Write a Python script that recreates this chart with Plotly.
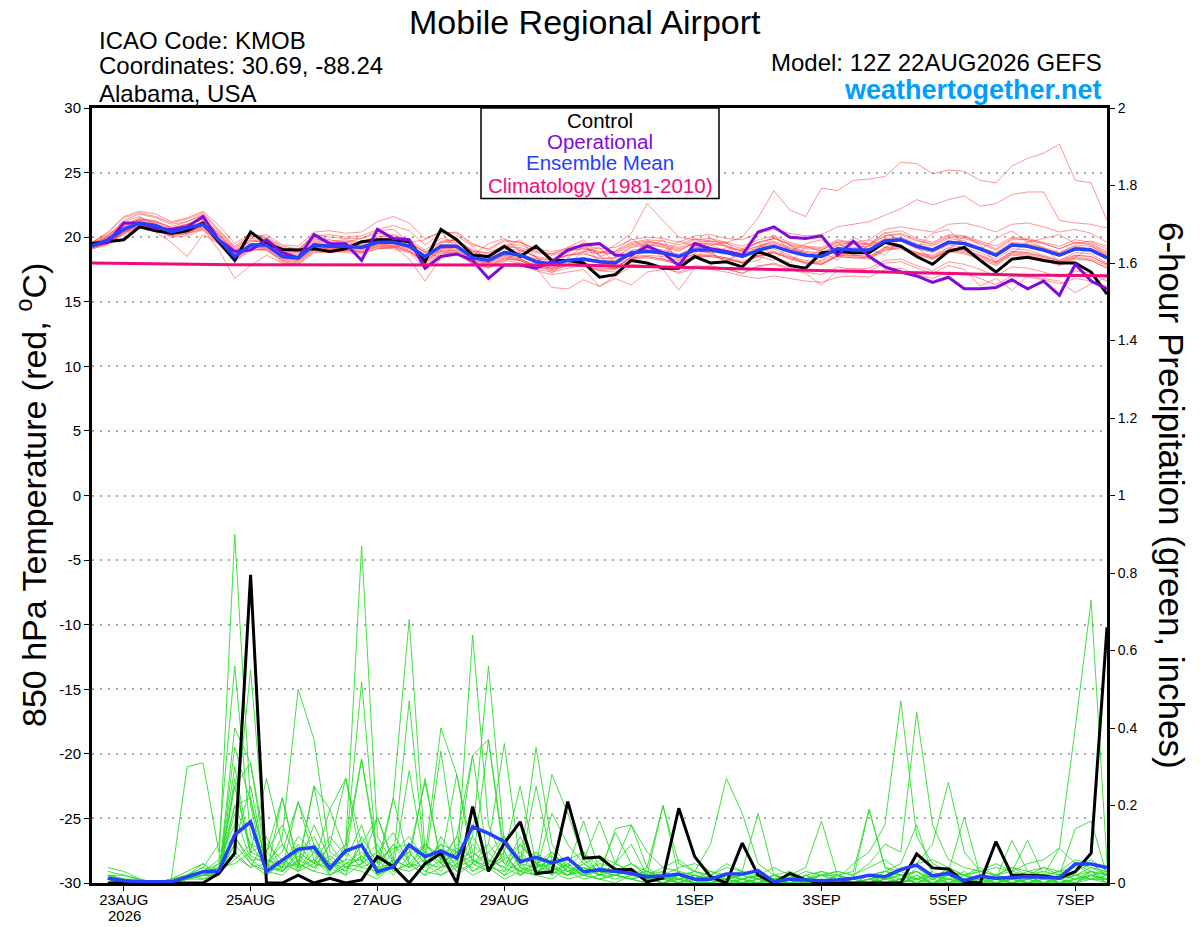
import pandas as pd
import plotly.graph_objects as go

# 6-hourly steps of the 12Z 22AUG2026 GEFS run, out to 12Z 07SEP2026
times = pd.date_range("2026-08-22 12:00", periods=65, freq="6h")

tick_dates = ["2026-08-23", "2026-08-25", "2026-08-27", "2026-08-29",
              "2026-09-01", "2026-09-03", "2026-09-05", "2026-09-07"]
tick_text = ["23AUG", "25AUG", "27AUG", "29AUG", "1SEP", "3SEP", "5SEP", "7SEP"]
year_label = "2026"

temp_ticks = [-30, -25, -20, -15, -10, -5, 0, 5, 10, 15, 20, 25, 30]
temp_labels = ["-30", "-25", "-20", "-15", "-10", "-5", "0", "5", "10", "15", "20", "25", "30"]

# 850 hPa temperature (C)
ctrl_temp = [19.5, 19.65, 19.8, 20.8, 20.5, 20.3, 20.5, 21.1, 19.65, 18.2,
             20.4, 19.5, 19.05, 19.0, 19.1, 18.9, 19.1, 19.65, 19.8, 19.8,
             19.65, 18.1, 20.6, 19.8, 18.6, 18.5, 19.3, 18.5, 19.3, 18.2,
             18.2, 18.0, 16.9, 17.1, 18.2, 18.0, 17.6, 17.6, 18.5, 18.0,
             18.1, 17.7, 18.9, 18.45, 17.8, 17.6, 18.8, 18.9, 18.8, 18.8,
             19.6, 19.3, 18.5, 17.9, 18.9, 19.2, 18.2, 17.3, 18.3, 18.45,
             18.2, 18.0, 18.0, 17.3, 15.6]
oper_temp = [19.4, 19.6, 21.1, 21.1, 20.7, 20.6, 20.8, 21.6, 19.8, 18.9,
             19.0, 19.8, 18.8, 18.4, 20.2, 19.5, 19.5, 18.2, 20.6, 19.9,
             19.8, 17.6, 18.5, 18.7, 18.2, 16.8, 17.85, 17.85, 17.6, 18.1,
             19.0, 19.4, 19.5, 18.6, 18.6, 19.3, 18.8, 17.8, 19.5, 19.1,
             18.9, 18.6, 20.4, 20.8, 20.0, 19.9, 20.1, 18.6, 19.7, 18.5,
             17.7, 17.3, 17.0, 16.5, 16.9, 16.0, 16.0, 16.1, 16.7, 16.0,
             16.6, 15.5, 17.9, 16.6, 16.0]
mean_temp = [19.3, 19.8, 20.6, 21.1, 20.9, 20.4, 20.7, 21.0, 19.8, 18.5,
             19.4, 19.4, 18.5, 18.4, 19.4, 19.3, 19.3, 19.2, 19.6, 19.6,
             19.3, 18.5, 19.3, 19.3, 18.4, 18.2, 18.8, 18.6, 18.1, 17.9,
             18.2, 18.3, 18.1, 18.0, 18.8, 18.9, 18.8, 18.5, 19.0, 19.0,
             18.8, 18.5, 19.0, 19.3, 18.9, 18.6, 18.5, 19.1, 19.0, 19.0,
             19.7, 19.8, 19.3, 19.0, 19.6, 19.5, 19.1, 18.6, 19.4, 19.3,
             19.0, 18.6, 19.1, 19.0, 18.4]
clim_temp = [18.00, 17.98, 17.96, 17.94, 17.92, 17.90, 17.89, 17.88, 17.87, 17.86,
             17.86, 17.86, 17.86, 17.86, 17.86, 17.86, 17.87, 17.87, 17.87, 17.87,
             17.88, 17.88, 17.88, 17.88, 17.88, 17.88, 17.88, 17.87, 17.86, 17.85,
             17.84, 17.82, 17.80, 17.78, 17.75, 17.72, 17.70, 17.67, 17.64, 17.61,
             17.58, 17.55, 17.52, 17.49, 17.46, 17.43, 17.40, 17.37, 17.34, 17.31,
             17.28, 17.25, 17.22, 17.19, 17.16, 17.14, 17.12, 17.10, 17.08, 17.06,
             17.05, 17.04, 17.03, 17.02, 17.01]

ens_temp = [
    [19.5, 20.0, 21.2, 21.6, 21.0, 20.5, 20.9, 21.5, 20.2, 18.9, 19.8, 19.6, 18.8, 18.9, 19.9, 19.6, 19.2, 19.6, 20.1, 20.0,
     19.5, 18.2, 19.6, 19.8, 18.9, 18.5, 19.3, 19.1, 18.4, 18.2, 18.6, 18.8, 18.3, 18.4, 19.3, 19.5, 19.2, 18.9, 19.6, 19.4,
     19.6, 18.5, 19.1, 20.2, 18.9, 19.5, 19.8, 18.9, 20.0, 19.4, 20.4, 19.7, 19.2, 20.3, 20.6, 19.4, 19.0, 19.9, 20.5, 19.6,
     19.9, 20.2, 19.5, 19.7, 19.3],
    [19.2, 19.5, 20.3, 20.9, 20.6, 20.0, 20.1, 20.6, 19.0, 16.8, 17.8, 18.6, 18.0, 17.9, 18.8, 18.9, 19.0, 18.8, 19.1, 19.3,
     18.9, 17.9, 18.7, 18.9, 17.9, 17.6, 18.4, 18.2, 17.5, 17.3, 17.6, 17.8, 17.4, 17.5, 18.3, 18.4, 18.2, 17.9, 18.5, 18.6,
     18.4, 18.0, 18.6, 18.8, 18.4, 18.0, 17.9, 18.6, 18.5, 18.4, 19.0, 19.2, 18.7, 18.4, 19.0, 18.9, 18.5, 18.0, 18.8, 18.7,
     18.4, 18.0, 18.5, 18.3, 17.8],
    [19.4, 19.9, 20.8, 21.4, 21.3, 20.7, 21.0, 21.4, 20.3, 19.0, 19.9, 19.8, 19.0, 18.9, 19.8, 19.7, 19.8, 19.6, 20.0, 20.2,
     19.8, 19.0, 19.9, 19.7, 18.9, 18.8, 19.3, 19.2, 18.8, 18.6, 18.9, 19.1, 18.8, 18.9, 19.6, 19.8, 19.7, 19.4, 19.9, 19.7,
     19.6, 20.0, 21.5, 23.6, 22.1, 21.6, 23.8, 23.6, 24.4, 24.5, 24.7, 25.8, 25.7, 24.9, 25.2, 25.1, 24.4, 24.2, 25.5, 26.1,
     26.5, 27.2, 24.4, 24.2, 21.3],
    [19.6, 20.2, 21.0, 21.3, 21.2, 20.8, 21.2, 21.7, 20.4, 19.1, 20.1, 19.9, 19.1, 19.0, 20.0, 19.8, 19.6, 19.9, 20.3, 20.1,
     19.7, 18.8, 19.7, 19.8, 19.0, 18.7, 19.4, 19.4, 18.9, 18.7, 19.2, 19.4, 19.1, 19.2, 19.8, 20.0, 19.9, 19.6, 20.1, 20.2,
     19.9, 19.8, 20.3, 20.6, 20.3, 20.1, 20.2, 20.8, 21.0, 21.2, 21.7, 22.2, 22.9, 22.5, 22.9, 23.2, 22.4, 22.6, 23.3, 23.5,
     23.5, 21.3, 21.1, 21.0, 20.7],
    [19.3, 19.6, 20.5, 21.0, 20.8, 20.3, 20.5, 20.9, 19.7, 18.6, 19.5, 19.3, 18.6, 18.4, 19.3, 19.2, 19.4, 19.1, 19.5, 19.7,
     19.4, 18.6, 19.4, 19.2, 18.4, 18.3, 18.9, 18.7, 18.3, 18.2, 18.6, 18.9, 18.7, 19.4, 20.3, 22.6, 21.3, 20.0, 19.8, 19.6,
     19.3, 18.9, 19.3, 19.7, 19.2, 18.9, 18.8, 19.4, 19.2, 19.3, 19.9, 20.0, 19.5, 19.3, 19.9, 19.7, 19.2, 18.8, 19.6, 19.5,
     19.2, 18.8, 19.4, 19.3, 18.7],
    [19.1, 19.5, 20.4, 20.8, 20.6, 20.2, 20.4, 20.8, 19.5, 18.1, 19.0, 19.0, 18.1, 17.9, 18.9, 18.8, 18.9, 18.9, 19.2, 19.1,
     18.8, 17.6, 18.8, 18.7, 17.9, 17.7, 18.2, 18.0, 17.4, 17.1, 17.3, 17.5, 16.2, 16.8, 16.3, 17.3, 17.5, 15.9, 17.6, 17.8,
     17.5, 17.2, 17.8, 17.9, 17.5, 17.2, 16.3, 17.4, 17.6, 17.4, 18.0, 18.1, 17.6, 17.2, 17.8, 17.5, 16.2, 16.8, 15.9, 17.0,
     16.8, 16.6, 15.7, 16.4, 16.9],
    [19.4, 20.1, 21.3, 21.8, 21.5, 21.0, 21.2, 21.8, 20.5, 19.3, 20.2, 19.9, 19.2, 19.0, 20.2, 20.0, 19.9, 19.9, 20.5, 20.6,
     19.6, 19.8, 20.4, 19.1, 18.6, 19.5, 19.9, 18.9, 19.3, 18.1, 19.2, 19.8, 18.5, 18.9, 19.9, 19.0, 18.6, 19.7, 19.3, 18.7,
     19.2, 18.9, 19.3, 19.6, 19.1, 18.7, 18.5, 19.1, 19.0, 18.9, 19.6, 19.7, 19.1, 18.8, 19.4, 19.2, 18.8, 18.3, 19.1, 19.0,
     18.6, 18.2, 18.8, 18.7, 18.0],
    [19.2, 19.6, 20.2, 20.7, 20.5, 20.1, 20.3, 20.7, 19.4, 18.2, 19.0, 19.1, 18.3, 18.2, 19.0, 19.0, 18.8, 18.7, 19.1, 19.2,
     18.9, 18.1, 18.9, 18.8, 18.0, 17.8, 18.4, 18.2, 17.7, 17.5, 17.8, 17.9, 17.6, 17.6, 18.4, 18.5, 18.3, 18.0, 18.6, 18.5,
     18.3, 18.0, 18.5, 18.8, 18.4, 18.1, 17.9, 18.5, 18.4, 18.4, 19.1, 19.2, 18.7, 18.4, 19.0, 18.8, 18.4, 17.9, 18.7, 18.6,
     18.3, 17.9, 18.4, 18.2, 17.6],
    [19.6, 20.3, 21.5, 21.9, 21.6, 21.1, 21.4, 21.9, 20.6, 19.2, 20.0, 20.2, 19.4, 19.3, 20.4, 20.5, 20.3, 20.4, 21.2, 21.6,
     21.1, 19.9, 20.4, 20.3, 19.4, 19.1, 19.8, 19.6, 19.1, 18.9, 19.1, 19.2, 18.9, 18.8, 19.5, 19.7, 19.5, 19.2, 19.8, 19.9,
     19.6, 19.3, 19.8, 20.1, 19.6, 19.3, 19.2, 19.8, 19.6, 19.5, 20.3, 20.5, 19.9, 19.6, 20.2, 20.1, 19.7, 19.3, 20.0, 19.9,
     19.6, 19.3, 19.8, 19.6, 19.1],
    [19.3, 19.7, 20.6, 21.1, 20.8, 20.5, 20.6, 21.0, 19.9, 18.7, 19.3, 19.4, 18.7, 18.6, 19.4, 19.3, 19.5, 19.3, 19.6, 19.5,
     19.2, 18.4, 19.1, 19.2, 18.6, 18.4, 18.9, 18.8, 18.2, 18.0, 17.9, 18.9, 19.2, 18.0, 18.6, 19.5, 18.3, 17.8, 19.4, 18.9,
     18.0, 19.1, 18.5, 18.2, 19.4, 18.8, 18.1, 19.3, 18.6, 19.8, 19.2, 19.9, 19.4, 19.1, 19.7, 19.6, 19.2, 18.7, 19.5, 19.4,
     19.1, 18.7, 19.2, 19.1, 18.5],
    [19.2, 19.6, 20.4, 20.9, 20.7, 20.2, 20.5, 20.9, 19.6, 18.4, 19.2, 19.2, 18.4, 18.2, 19.2, 19.1, 19.1, 19.0, 19.3, 19.3,
     18.9, 18.2, 19.0, 19.0, 18.2, 18.0, 18.6, 18.4, 17.6, 16.1, 16.0, 16.7, 16.2, 17.0, 17.7, 17.8, 17.6, 17.3, 17.8, 17.7,
     17.6, 17.2, 17.7, 18.0, 17.6, 17.3, 17.1, 17.7, 17.5, 17.6, 18.2, 18.3, 17.8, 17.4, 18.1, 17.9, 17.5, 17.0, 17.7, 17.6,
     17.3, 16.9, 17.4, 17.2, 16.6],
    [19.5, 20.1, 20.9, 21.5, 21.1, 20.6, 21.0, 21.3, 20.1, 18.8, 19.7, 19.7, 18.9, 18.8, 19.7, 19.6, 19.7, 19.5, 19.9, 19.9,
     19.6, 18.8, 19.6, 19.6, 18.8, 18.5, 19.1, 19.0, 18.5, 18.3, 18.6, 18.7, 18.4, 18.4, 19.2, 19.4, 19.3, 19.0, 19.5, 19.5,
     19.3, 19.0, 19.6, 19.9, 19.4, 19.1, 19.0, 19.6, 19.5, 19.4, 20.1, 20.2, 19.7, 19.5, 20.1, 20.0, 19.6, 19.1, 19.9, 19.8,
     19.5, 19.1, 19.6, 19.5, 18.9],
    [19.4, 19.8, 20.7, 21.2, 20.9, 20.4, 20.2, 21.1, 19.8, 18.6, 19.3, 19.5, 18.6, 18.5, 19.5, 19.3, 19.2, 19.3, 19.7, 19.6,
     19.3, 18.5, 19.3, 19.4, 18.5, 18.2, 18.8, 18.6, 18.0, 17.8, 18.1, 18.2, 18.0, 17.9, 18.7, 18.8, 18.7, 18.4, 18.9, 18.8,
     18.1, 18.9, 19.6, 18.4, 18.0, 19.3, 18.9, 18.2, 19.5, 19.1, 18.6, 19.9, 19.2, 18.3, 19.0, 20.1, 19.4, 18.0, 18.7, 19.7,
     19.2, 18.1, 18.4, 19.3, 18.6],
    [19.2, 19.5, 20.5, 21.0, 20.4, 19.6, 18.5, 20.2, 19.5, 18.3, 19.1, 19.0, 18.2, 18.1, 19.1, 19.0, 19.1, 18.9, 19.4, 19.4,
     19.0, 18.0, 18.9, 19.0, 18.1, 17.9, 18.5, 18.3, 17.8, 17.6, 17.9, 18.0, 17.7, 17.7, 18.5, 18.6, 18.5, 18.2, 18.7, 18.6,
     18.4, 18.1, 18.6, 18.9, 18.5, 18.2, 18.0, 18.6, 18.6, 18.5, 19.2, 19.3, 18.8, 18.5, 19.1, 19.0, 18.6, 18.1, 18.9, 18.8,
     18.5, 18.1, 18.6, 18.5, 17.9],
    [19.6, 20.4, 21.6, 22.0, 21.8, 21.2, 21.5, 22.0, 20.9, 19.5, 20.3, 20.0, 19.3, 19.1, 20.1, 20.2, 20.0, 20.1, 20.6, 20.9,
     20.5, 19.4, 20.3, 20.4, 19.5, 19.0, 19.7, 19.6, 19.0, 18.7, 19.0, 19.1, 18.8, 18.7, 19.4, 19.6, 19.4, 19.1, 19.6, 19.7,
     19.5, 19.1, 19.6, 19.9, 19.5, 19.2, 19.1, 19.7, 19.6, 19.4, 20.1, 20.3, 19.8, 19.4, 20.0, 19.9, 19.5, 19.0, 19.8, 19.8,
     19.5, 19.1, 19.6, 19.4, 18.8],
    [19.3, 19.9, 20.8, 21.3, 21.0, 20.5, 20.8, 21.2, 19.9, 18.6, 19.5, 19.5, 18.6, 18.5, 19.5, 19.4, 19.4, 19.3, 19.7, 19.7,
     19.4, 18.6, 19.4, 19.4, 18.5, 18.3, 18.9, 18.7, 18.2, 18.0, 18.3, 18.4, 18.2, 18.2, 19.0, 19.1, 19.0, 18.7, 19.2, 19.2,
     19.0, 18.7, 19.2, 19.5, 19.1, 18.8, 18.7, 19.4, 19.6, 19.8, 20.6, 20.8, 20.6, 20.4, 21.0, 21.1, 20.8, 20.4, 21.0, 21.1,
     20.8, 20.4, 20.6, 20.3, 19.6],
    [19.1, 19.4, 20.3, 20.8, 20.6, 20.1, 20.3, 20.6, 19.5, 18.4, 19.2, 19.1, 18.2, 18.0, 19.0, 18.9, 19.0, 18.8, 19.3, 19.2,
     19.5, 18.9, 18.4, 19.6, 18.8, 17.6, 18.1, 19.0, 18.5, 17.2, 18.4, 19.3, 18.6, 17.5, 18.2, 19.2, 19.8, 18.1, 18.3, 19.4,
     18.9, 18.0, 18.2, 19.1, 18.6, 17.9, 18.2, 18.7, 18.6, 18.5, 19.2, 19.3, 18.8, 18.6, 19.2, 19.0, 18.6, 18.1, 18.9, 18.8,
     18.5, 18.2, 18.6, 18.5, 17.9],
    [19.3, 19.7, 20.5, 21.0, 20.7, 20.3, 20.6, 20.8, 19.6, 18.4, 19.3, 19.2, 18.4, 18.3, 19.2, 19.1, 19.2, 19.1, 19.4, 19.4,
     19.1, 18.3, 19.1, 19.1, 18.2, 18.0, 18.6, 18.3, 17.8, 17.6, 17.9, 17.8, 17.4, 17.3, 17.9, 17.8, 17.7, 17.2, 17.6, 17.5,
     17.3, 17.0, 16.8, 17.0, 16.8, 16.6, 16.5, 16.9, 17.0, 16.9, 17.5, 17.6, 17.1, 16.8, 17.3, 17.2, 16.8, 16.3, 17.0, 16.9,
     16.7, 16.4, 16.8, 16.6, 16.2],
    [19.5, 20.0, 20.9, 21.4, 21.2, 20.7, 21.0, 21.4, 20.2, 18.9, 19.7, 19.6, 18.8, 18.7, 19.6, 19.5, 19.6, 19.4, 19.8, 19.8,
     19.9, 18.2, 19.0, 20.1, 19.3, 18.0, 19.2, 19.8, 18.4, 17.5, 18.8, 19.6, 18.0, 17.6, 18.5, 19.7, 19.4, 18.3, 18.7, 19.9,
     19.3, 18.4, 18.9, 20.0, 19.4, 18.5, 19.0, 19.6, 18.8, 19.3, 19.8, 19.9, 19.4, 19.1, 19.7, 19.6, 19.2, 18.7, 19.5, 19.4,
     19.1, 18.8, 19.3, 19.1, 18.6],
    [19.2, 19.6, 20.4, 21.0, 20.7, 20.2, 20.4, 20.8, 19.6, 18.3, 19.2, 19.3, 18.4, 18.3, 19.2, 19.2, 19.1, 19.2, 19.5, 19.3,
     18.3, 16.6, 18.4, 18.8, 18.0, 17.8, 18.3, 18.2, 17.7, 17.4, 17.8, 17.8, 17.5, 17.6, 18.4, 18.5, 18.3, 18.0, 18.5, 18.5,
     18.3, 18.0, 18.5, 18.8, 18.3, 18.0, 17.9, 18.5, 18.4, 18.3, 19.0, 19.1, 18.6, 18.3, 18.9, 18.7, 18.3, 17.8, 18.6, 18.5,
     18.2, 17.8, 18.3, 18.2, 17.6],
]

# 6-hour precipitation (inches), first value is 18Z 22AUG
ctrl_precip = [0.0, 0.0, 0.0, 0.0, 0.0, 0.0, 0.0, 0.025, 0.077, 0.795,
               0.0, 0.0, 0.02, 0.0, 0.012, 0.0, 0.008, 0.068, 0.042, 0.0,
               0.05, 0.077, 0.0, 0.197, 0.03, 0.103, 0.158, 0.025, 0.029, 0.21,
               0.064, 0.067, 0.034, 0.035, 0.003, 0.013, 0.193, 0.068, 0.016, 0.0,
               0.103, 0.02, 0.0, 0.025, 0.008, 0.0, 0.0, 0.0, 0.0, 0.0,
               0.0, 0.075, 0.039, 0.036, 0.003, 0.0, 0.107, 0.02, 0.02, 0.018,
               0.013, 0.029, 0.077, 0.66]
mean_precip = [0.012, 0.006, 0.003, 0.002, 0.003, 0.016, 0.029, 0.031, 0.124, 0.158,
               0.029, 0.059, 0.087, 0.092, 0.038, 0.083, 0.098, 0.029, 0.042, 0.098,
               0.068, 0.083, 0.064, 0.145, 0.128, 0.107, 0.055, 0.066, 0.052, 0.064,
               0.029, 0.034, 0.029, 0.025, 0.016, 0.018, 0.023, 0.010, 0.010, 0.023,
               0.023, 0.032, 0.003, 0.010, 0.008, 0.006, 0.008, 0.012, 0.020, 0.016,
               0.035, 0.046, 0.018, 0.025, 0.006, 0.018, 0.012, 0.015, 0.016, 0.015,
               0.013, 0.049, 0.049, 0.040]

ens_precip = [
    [0.03, 0.02, 0.01, 0, 0, 0.01, 0.02, 0.05, 0.90, 0.20, 0.02, 0.05, 0.08, 0.12, 0.04, 0.06,
     0.15, 0.02, 0.04, 0.10, 0.05, 0.08, 0.03, 0.10, 0.06, 0.04, 0.02, 0.05, 0.03, 0.02, 0.04, 0.03,
     0.02, 0.01, 0, 0.02, 0.01, 0, 0, 0.01, 0.02, 0.01, 0, 0, 0, 0, 0.01, 0,
     0, 0.01, 0.02, 0.03, 0.01, 0.02, 0, 0.01, 0, 0.01, 0.01, 0, 0.01, 0.03, 0.05, 0.02],
    [0.02, 0.01, 0, 0, 0, 0.02, 0.04, 0.10, 0.56, 0.12, 0.08, 0.15, 0.05, 0.03, 0.10, 0.04,
     0.05, 0.08, 0.13, 0.05, 0.02, 0.12, 0.06, 0.04, 0.08, 0.03, 0.10, 0.05, 0.02, 0.06, 0.08, 0.02,
     0.01, 0.02, 0.03, 0.01, 0, 0.02, 0.01, 0, 0, 0.01, 0, 0, 0.02, 0, 0, 0.01,
     0, 0, 0.01, 0, 0.02, 0.01, 0.03, 0, 0.01, 0, 0, 0.02, 0.01, 0, 0.02, 0.01],
    [0.01, 0, 0, 0, 0.01, 0.02, 0.03, 0.06, 0.15, 0.55, 0.06, 0.04, 0.12, 0.08, 0.05, 0.03,
     0.10, 0.02, 0.06, 0.04, 0.08, 0.05, 0.12, 0.06, 0.03, 0.10, 0.04, 0.02, 0.06, 0.03, 0.01, 0.02,
     0.05, 0.03, 0.01, 0, 0.02, 0, 0.01, 0.02, 0.01, 0, 0.01, 0, 0, 0.01, 0, 0,
     0.01, 0.02, 0, 0.01, 0, 0, 0.01, 0.02, 0, 0.01, 0, 0.01, 0, 0.02, 0.01, 0.01],
    [0.02, 0.01, 0.01, 0, 0.01, 0.30, 0.31, 0.08, 0.12, 0.06, 0.03, 0.02, 0.06, 0.10, 0.02, 0.04,
     0.03, 0.01, 0.05, 0.08, 0.03, 0.02, 0.05, 0.02, 0.04, 0.01, 0.03, 0.02, 0.01, 0.04, 0.02, 0.01,
     0, 0.02, 0.01, 0, 0.01, 0, 0, 0.01, 0, 0, 0.02, 0.01, 0, 0, 0, 0,
     0.01, 0, 0, 0.02, 0, 0.01, 0, 0, 0.02, 0, 0.01, 0, 0, 0.01, 0.02, 0.01],
    [0, 0, 0, 0, 0.01, 0.03, 0.05, 0.02, 0.20, 0.10, 0.04, 0.12, 0.50, 0.37, 0.08, 0.05,
     0.04, 0.06, 0.02, 0.07, 0.10, 0.05, 0.02, 0.05, 0.03, 0.08, 0.02, 0.04, 0.05, 0.02, 0.03, 0.01,
     0.02, 0.01, 0, 0.03, 0.01, 0, 0.02, 0, 0.01, 0, 0, 0.02, 0, 0, 0.01, 0,
     0, 0.01, 0.02, 0, 0.01, 0, 0, 0.02, 0.01, 0, 0.01, 0.02, 0, 0, 0.01, 0],
    [0.01, 0, 0, 0, 0, 0.01, 0.02, 0.04, 0.25, 0.08, 0.10, 0.06, 0.04, 0.15, 0.06, 0.10,
     0.87, 0.12, 0.05, 0.08, 0.03, 0.06, 0.04, 0.12, 0.05, 0.02, 0.07, 0.03, 0.04, 0.02, 0.05, 0.03,
     0.02, 0.04, 0.01, 0.02, 0, 0.01, 0, 0.02, 0, 0.01, 0, 0, 0.01, 0, 0.02, 0,
     0, 0.03, 0.02, 0.01, 0, 0.02, 0, 0.01, 0.01, 0.02, 0, 0, 0.01, 0.02, 0.03, 0.02],
    [0, 0, 0.01, 0, 0, 0.02, 0.03, 0.02, 0.35, 0.21, 0.05, 0.08, 0.21, 0.06, 0.03, 0.08,
     0.52, 0.05, 0.10, 0.04, 0.06, 0.03, 0.08, 0.05, 0.10, 0.05, 0.03, 0.08, 0.02, 0.05, 0.02, 0.04,
     0.03, 0.05, 0.02, 0, 0.01, 0.02, 0, 0, 0.01, 0.02, 0, 0.01, 0, 0, 0, 0.01,
     0.02, 0, 0.01, 0.03, 0, 0, 0.01, 0, 0, 0.01, 0.02, 0, 0, 0.01, 0.01, 0.02],
    [0.02, 0.01, 0, 0, 0, 0.01, 0.01, 0.03, 0.10, 0.25, 0.04, 0.06, 0.03, 0.10, 0.05, 0.02,
     0.12, 0.05, 0.22, 0.68, 0.08, 0.04, 0.10, 0.06, 0.04, 0.07, 0.03, 0.02, 0.08, 0.03, 0.02, 0.06,
     0.04, 0.02, 0.03, 0.01, 0, 0.02, 0.01, 0, 0, 0.02, 0.01, 0, 0.02, 0, 0, 0,
     0.01, 0, 0, 0.04, 0.01, 0.03, 0.02, 0, 0.01, 0, 0.01, 0.02, 0, 0, 0.02, 0.01],
    [0.01, 0, 0, 0, 0, 0.01, 0.02, 0.02, 0.08, 0.04, 0.12, 0.03, 0.07, 0.04, 0.10, 0.27,
     0.05, 0.17, 0.06, 0.47, 0.05, 0.10, 0.08, 0.03, 0.06, 0.04, 0.12, 0.03, 0.05, 0.02, 0.04, 0.02,
     0.02, 0.01, 0.02, 0.03, 0.01, 0, 0.02, 0.01, 0, 0, 0.01, 0.02, 0, 0.01, 0, 0,
     0.02, 0.01, 0, 0.02, 0, 0.01, 0.01, 0, 0, 0.02, 0, 0.01, 0.01, 0, 0.03, 0.01],
    [0, 0.01, 0, 0, 0, 0.02, 0.04, 0.03, 0.06, 0.10, 0.08, 0.04, 0.10, 0.05, 0.19, 0.08,
     0.04, 0.03, 0.08, 0.12, 0.06, 0.10, 0.04, 0.64, 0.15, 0.05, 0.08, 0.04, 0.06, 0.03, 0.05, 0.02,
     0.03, 0.02, 0.01, 0, 0.02, 0.01, 0, 0.02, 0.01, 0, 0, 0.01, 0, 0, 0.02, 0,
     0, 0.01, 0.03, 0.01, 0.02, 0, 0, 0.01, 0.02, 0.01, 0, 0.01, 0.02, 0.05, 0.04, 0.02],
    [0.01, 0, 0, 0, 0.01, 0.01, 0.02, 0.04, 0.05, 0.08, 0.27, 0.10, 0.04, 0.06, 0.02, 0.05,
     0.08, 0.04, 0.10, 0.06, 0.27, 0.05, 0.08, 0.12, 0.56, 0.10, 0.05, 0.08, 0.04, 0.02, 0.06, 0.03,
     0.02, 0.03, 0.01, 0.02, 0, 0, 0.01, 0.01, 0, 0.01, 0.02, 0, 0, 0.02, 0, 0,
     0.01, 0.02, 0, 0.01, 0.03, 0, 0.02, 0, 0, 0, 0.01, 0.02, 0, 0.01, 0.02, 0],
    [0.02, 0.02, 0.01, 0, 0, 0.02, 0.05, 0.02, 0.27, 0.07, 0.05, 0.03, 0.06, 0.04, 0.06, 0.03,
     0.10, 0.04, 0.05, 0.10, 0.07, 0.40, 0.28, 0.08, 0.05, 0.12, 0.04, 0.25, 0.06, 0.04, 0.03, 0.05,
     0.04, 0.02, 0.02, 0.01, 0.02, 0, 0, 0.01, 0.02, 0.01, 0, 0, 0.01, 0, 0.01, 0,
     0, 0.02, 0.01, 0, 0, 0.02, 0, 0.02, 0.01, 0, 0.02, 0, 0.01, 0.02, 0.01, 0.01],
    [0.01, 0, 0, 0, 0, 0.01, 0.03, 0.05, 0.12, 0.05, 0.02, 0.22, 0.04, 0.25, 0.04, 0.06,
     0.06, 0.10, 0.03, 0.05, 0.04, 0.08, 0.05, 0.07, 0.10, 0.36, 0.05, 0.35, 0.10, 0.04, 0.08, 0.04,
     0.03, 0.05, 0.02, 0.01, 0.01, 0.03, 0.01, 0, 0.01, 0, 0.02, 0.01, 0, 0, 0.01, 0,
     0.02, 0, 0.01, 0, 0.02, 0.01, 0, 0.02, 0, 0.01, 0, 0, 0.02, 0.01, 0.03, 0],
    [0.02, 0.01, 0, 0, 0, 0.02, 0.02, 0.03, 0.18, 0.06, 0.06, 0.05, 0.03, 0.08, 0.03, 0.10,
     0.32, 0.08, 0.04, 0.29, 0.05, 0.04, 0.06, 0.33, 0.05, 0.08, 0.02, 0.06, 0.03, 0.05, 0.02, 0.03,
     0.03, 0.02, 0.04, 0.01, 0.02, 0.01, 0.03, 0.02, 0.01, 0.02, 0.01, 0, 0.02, 0.03, 0.01, 0.05,
     0.08, 0.15, 0.47, 0.12, 0.05, 0.03, 0.02, 0.04, 0.02, 0.03, 0.02, 0.04, 0.03, 0.06, 0.05, 0.02],
    [0, 0, 0, 0, 0, 0.01, 0.02, 0.02, 0.40, 0.31, 0.05, 0.03, 0.08, 0.05, 0.07, 0.04,
     0.07, 0.03, 0.06, 0.04, 0.10, 0.07, 0.03, 0.05, 0.37, 0.06, 0.10, 0.05, 0.04, 0.03, 0.04, 0.02,
     0.05, 0.03, 0.02, 0.04, 0.03, 0.02, 0.01, 0.02, 0.03, 0.01, 0, 0.02, 0.01, 0.02, 0.03, 0.02,
     0.05, 0.10, 0.08, 0.44, 0.15, 0.06, 0.04, 0.03, 0.02, 0.04, 0.03, 0.02, 0.03, 0.04, 0.06, 0.03],
    [0.01, 0, 0, 0, 0, 0.02, 0.01, 0.02, 0.10, 0.05, 0.03, 0.04, 0.05, 0.03, 0.02, 0.05,
     0.06, 0.02, 0.04, 0.03, 0.05, 0.02, 0.04, 0.06, 0.04, 0.03, 0.05, 0.02, 0.03, 0.01, 0.02, 0.01,
     0.02, 0.01, 0.02, 0, 0.01, 0.02, 0.01, 0.02, 0.01, 0.02, 0.01, 0.02, 0.01, 0.02, 0.01, 0.01,
     0.02, 0.03, 0.02, 0.01, 0.02, 0.03, 0.02, 0.03, 0.04, 0.03, 0.05, 0.06, 0.09, 0.40, 0.73, 0.05],
    [0.01, 0, 0, 0, 0, 0.01, 0.02, 0.03, 0.07, 0.04, 0.05, 0.10, 0.03, 0.05, 0.04, 0.02,
     0.05, 0.08, 0.03, 0.05, 0.02, 0.04, 0.09, 0.03, 0.05, 0.02, 0.04, 0.03, 0.18, 0.10, 0.05, 0.07,
     0.05, 0.15, 0.08, 0.04, 0.06, 0.03, 0.10, 0.27, 0.18, 0.05, 0.02, 0.03, 0.01, 0.02, 0.03, 0.02,
     0.04, 0.06, 0.03, 0.05, 0.10, 0.26, 0.08, 0.03, 0.02, 0.04, 0.02, 0.03, 0.02, 0.05, 0.03, 0.02],
    [0, 0, 0, 0, 0.01, 0.02, 0.03, 0.04, 0.20, 0.22, 0.04, 0.03, 0.08, 0.05, 0.12, 0.07,
     0.32, 0.06, 0.09, 0.10, 0.05, 0.34, 0.06, 0.08, 0.04, 0.06, 0.03, 0.05, 0.07, 0.03, 0.04, 0.02,
     0.14, 0.15, 0.04, 0.20, 0.02, 0.03, 0.02, 0.04, 0.03, 0.18, 0.02, 0.01, 0.03, 0.02, 0.02, 0.01,
     0.19, 0.04, 0.02, 0.03, 0.01, 0.04, 0.02, 0.01, 0.02, 0.01, 0.03, 0.04, 0.02, 0.14, 0.16, 0.02],
    [0.01, 0.01, 0, 0, 0, 0.01, 0.02, 0.03, 0.30, 0.08, 0.06, 0.04, 0.21, 0.10, 0.05, 0.04,
     0.07, 0.03, 0.22, 0.05, 0.10, 0.06, 0.12, 0.33, 0.37, 0.08, 0.25, 0.05, 0.08, 0.04, 0.16, 0.03,
     0.13, 0.05, 0.03, 0.02, 0.04, 0.05, 0.03, 0.01, 0.02, 0.03, 0.01, 0.02, 0.04, 0.16, 0.02, 0.01,
     0.02, 0.03, 0.05, 0.15, 0.02, 0.03, 0.17, 0.02, 0.01, 0.11, 0.03, 0.02, 0.09, 0.05, 0.02, 0.03],
    [0.04, 0.03, 0.01, 0, 0, 0.01, 0.02, 0.02, 0.25, 0.31, 0.08, 0.22, 0.05, 0.25, 0.19, 0.27,
     0.10, 0.17, 0.05, 0.08, 0.26, 0.06, 0.28, 0.05, 0.08, 0.12, 0.05, 0.04, 0.28, 0.18, 0.06, 0.16,
     0.05, 0.10, 0.02, 0.20, 0.05, 0.03, 0.02, 0.05, 0.03, 0.02, 0.04, 0.02, 0.01, 0.03, 0.02, 0.03,
     0.19, 0.04, 0.03, 0.05, 0.06, 0.04, 0.02, 0.03, 0.05, 0.03, 0.11, 0.02, 0.03, 0.02, 0.04, 0.03],
]

for row in ens_temp:
    assert len(row) == len(times)
for row in ens_precip:
    assert len(row) == len(times) - 1
assert len(ctrl_precip) == len(mean_precip) == len(times) - 1

FONT = "Liberation Sans, Arial, Helvetica, sans-serif"
RED = "rgba(255,55,55,0.6)"
GREEN = "rgb(45,220,45)"
PURPLE = "rgb(130,10,220)"
BLUE = "rgb(35,65,255)"
PINK = "rgb(240,10,125)"

# plot area as it should land in the 1200x927 window
L, R, T, B = 92, 1107, 108, 883
OFF = 8  # page body margin


def px(x):
    return (x - L) / (R - L)


def py(y):
    return (B - y) / (B - T)


fig = go.Figure()

for row in ens_temp:
    fig.add_trace(go.Scatter(x=times, y=row, mode="lines",
                             line=dict(color=RED, width=0.9)))
for row in ens_precip:
    fig.add_trace(go.Scatter(x=times[1:], y=row, mode="lines", yaxis="y2",
                             line=dict(color=GREEN, width=0.9)))

fig.add_trace(go.Scatter(x=times[1:], y=ctrl_precip, mode="lines", yaxis="y2",
                         line=dict(color="black", width=3)))
fig.add_trace(go.Scatter(x=times[1:], y=mean_precip, mode="lines", yaxis="y2",
                         line=dict(color=BLUE, width=3.5)))

fig.add_trace(go.Scatter(x=times, y=ctrl_temp, mode="lines",
                         line=dict(color="black", width=3)))
fig.add_trace(go.Scatter(x=times, y=oper_temp, mode="lines",
                         line=dict(color=PURPLE, width=3)))
fig.add_trace(go.Scatter(x=times, y=mean_temp, mode="lines",
                         line=dict(color=BLUE, width=3.5)))
fig.add_trace(go.Scatter(x=times, y=clim_temp, mode="lines",
                         line=dict(color=PINK, width=3)))

# legend box
fig.add_shape(type="rect", xref="paper", yref="paper",
              x0=px(481), x1=px(719), y0=py(198.5), y1=1,
              line=dict(color="black", width=1.5), fillcolor="white", layer="above")

annotations = []
legend_lines = [("Control", "black", 121), ("Operational", PURPLE, 142),
                ("Ensemble Mean", BLUE, 163), ("Climatology (1981-2010)", PINK, 185)]
for text, color, y in legend_lines:
    annotations.append(dict(text=text, x=px(600), y=py(y), xanchor="center", yanchor="middle",
                            font=dict(size=20.5, color=color)))

annotations += [
    dict(text="Mobile Regional Airport", x=px(585), y=py(21.5), xanchor="center", yanchor="middle",
         font=dict(size=34), borderpad=0),
    dict(text="ICAO Code: KMOB", x=px(97), y=py(40), xanchor="left", yanchor="middle",
         font=dict(size=24)),
    dict(text="Coordinates: 30.69, -88.24", x=px(97), y=py(66), xanchor="left", yanchor="middle",
         font=dict(size=24)),
    dict(text="Alabama, USA", x=px(97), y=py(93), xanchor="left", yanchor="middle",
         font=dict(size=24)),
    dict(text="Model: 12Z 22AUG2026 GEFS", x=px(1104), y=py(63), xanchor="right", yanchor="middle",
         font=dict(size=24)),
    dict(text="<b>weathertogether.net</b>", x=px(1104), y=py(90), xanchor="right", yanchor="middle",
         font=dict(size=27, color="rgb(0,160,250)")),
    dict(text="850 hPa Temperature (red, <sup>o</sup>C)", x=px(31), y=py(495), textangle=-90,
         xanchor="center", yanchor="middle", font=dict(size=34)),
    dict(text="6-hour Precipitation (green, inches)", x=px(1172), y=py(495), textangle=90,
         xanchor="center", yanchor="middle", font=dict(size=35)),
    # year under the first date tick
    dict(text=year_label, x=px(124), y=py(915), xanchor="center", yanchor="middle",
         font=dict(size=15)),
]
for a in annotations:
    a.update(xref="paper", yref="paper", showarrow=False)

fig.update_layout(
    width=1200 - OFF, height=927 - OFF,
    margin=dict(l=L - OFF, r=1200 - R, t=T - OFF, b=927 - B, autoexpand=False),
    paper_bgcolor="white", plot_bgcolor="white",
    showlegend=False, hovermode=False,
    font=dict(family=FONT, color="black"),
    annotations=annotations,
    xaxis=dict(type="date", range=[times[0], times[-1]], automargin=False,
               tickvals=tick_dates, ticktext=tick_text, ticklabelstandoff=-4,
               ticks="outside", ticklen=5, tickwidth=1, tickcolor="black",
               tickfont=dict(size=15), showgrid=False, zeroline=False,
               showline=True, linewidth=3, linecolor="black", mirror=True),
    yaxis=dict(range=[-30, 30], tickvals=temp_ticks, ticktext=temp_labels, automargin=False,
               ticks="outside", ticklen=5, tickwidth=1, tickcolor="black",
               tickfont=dict(size=15), showgrid=True, gridcolor="#a8a8a8",
               griddash="2px,6px", gridwidth=1.5, zeroline=False,
               showline=True, linewidth=3, linecolor="black", mirror=True),
    yaxis2=dict(range=[0, 2], dtick=0.2, overlaying="y", side="right", automargin=False,
                ticks="outside", ticklen=5, tickwidth=1, tickcolor="black",
                tickfont=dict(size=14), showgrid=False, zeroline=False,
                showline=True, linewidth=3, linecolor="black"),
)

fig.write_html("out.html")
